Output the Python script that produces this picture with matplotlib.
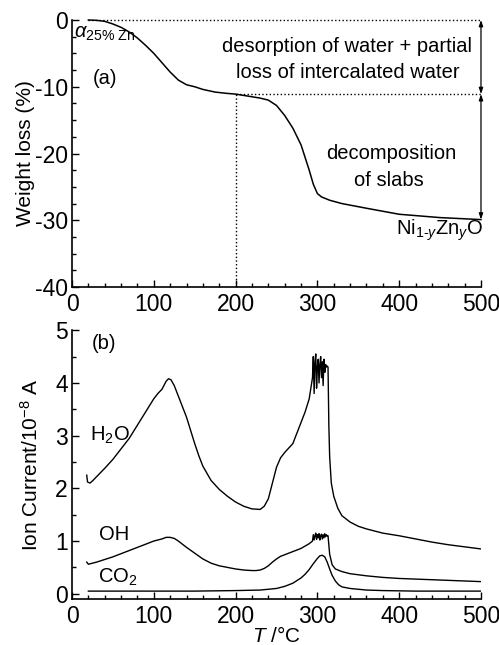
import matplotlib
matplotlib.use("Agg")
import matplotlib.pyplot as plt
from matplotlib.ticker import MultipleLocator

plt.rcParams['font.family'] = ['Liberation Sans', 'DejaVu Sans']
plt.rcParams['mathtext.fontset'] = 'custom'
plt.rcParams['mathtext.rm'] = 'Liberation Sans'
plt.rcParams['mathtext.it'] = 'Liberation Sans:italic'
plt.rcParams['mathtext.bf'] = 'Liberation Sans:bold'
plt.rcParams['axes.unicode_minus'] = False

# ---- data: panel (a) TGA ----
tga_T = [20, 30, 40, 50, 60, 70, 80, 90, 100, 110, 120, 130, 140, 150, 160, 175, 190,
         200, 210, 220, 230, 240, 250, 260, 270, 280, 290, 295, 300, 305, 315, 330,
         360, 400, 450, 500]
tga_w = [0, -0.05, -0.2, -0.6, -1.1, -1.8, -2.7, -3.8, -5.0, -6.4, -7.8, -9.0, -9.7,
         -10.0, -10.4, -10.8, -11.0, -11.1, -11.3, -11.5, -11.7, -12.0, -12.8, -14.3,
         -16.2, -18.7, -22.5, -24.6, -26.0, -26.5, -27.0, -27.5, -28.2, -29.1, -29.6, -29.9]
step_T = 200
step_w = -11.1
final_w = -29.9

# ---- data: panel (b) MS ion currents ----
h2o_T = [18, 19, 22, 25, 30, 40, 50, 60, 70, 80, 90, 100, 105, 110, 115, 118, 121, 125,
         130, 135, 140, 145, 150, 155, 160, 170, 180, 190, 200, 210, 220, 230, 235, 240,
         245, 250, 255, 260, 270, 280, 285, 290, 293,
         294, 295, 296, 297, 298, 299, 300, 301, 302, 303, 304, 305, 306, 307, 308, 309,
         310, 311, 312, 313,
         314, 315, 317, 320, 325, 330, 340, 350, 360, 380, 400, 420, 440, 460, 480, 500]
h2o_I = [2.25, 2.12, 2.1, 2.14, 2.22, 2.38, 2.55, 2.75, 2.95, 3.2, 3.45, 3.7, 3.8, 3.88,
         4.03, 4.08, 4.06, 3.95, 3.75, 3.55, 3.35, 3.1, 2.85, 2.62, 2.42, 2.15, 1.98, 1.85,
         1.74, 1.66, 1.61, 1.6, 1.66, 1.8, 2.1, 2.4, 2.58, 2.68, 2.85, 3.25, 3.45, 3.7, 4.0,
         4.1, 4.5, 3.8, 4.4, 4.55, 3.9, 4.3, 4.45, 4.0, 4.35, 4.5, 4.1, 4.4, 3.95, 4.45,
         4.2, 4.35, 4.3, 4.32, 4.3,
         3.2, 2.6, 2.1, 1.85, 1.62, 1.48, 1.36, 1.28, 1.23, 1.15, 1.1, 1.04, 0.98, 0.93, 0.89, 0.85]

oh_T = [18, 20, 30, 40, 50, 60, 70, 80, 90, 100, 110, 115, 120, 125, 130, 140, 150, 160,
        170, 180, 190, 200, 210, 220, 225, 230, 235, 240, 245, 250, 255, 260, 270, 280,
        290, 294,
        295, 296, 297, 298, 299, 300, 301, 302, 303, 304, 305, 306, 307, 308, 309, 310,
        311, 312, 313,
        315, 318, 322, 330, 340, 360, 380, 400, 450, 500]
oh_I = [0.6, 0.56, 0.6, 0.65, 0.7, 0.76, 0.82, 0.88, 0.94, 1.0, 1.04, 1.07, 1.07, 1.05,
        1.0, 0.88, 0.77, 0.66, 0.58, 0.53, 0.5, 0.47, 0.45, 0.44, 0.44, 0.45, 0.48, 0.53,
        0.6, 0.66, 0.71, 0.74, 0.8, 0.86, 0.95, 1.0,
        1.12, 1.02, 1.1, 1.15, 1.03, 1.12, 1.06, 1.14, 1.02, 1.1, 1.13, 1.04, 1.12, 1.06,
        1.14, 1.08, 1.12, 1.1, 1.1,
        0.75, 0.55, 0.47, 0.42, 0.38, 0.34, 0.31, 0.29, 0.26, 0.23]

co2_T = [20, 50, 100, 150, 200, 230, 250, 260, 270, 280, 285, 290, 295, 300, 303, 306,
         309, 312, 315, 318, 322, 326, 330, 340, 360, 380, 420, 460, 500]
co2_I = [0.05, 0.05, 0.05, 0.05, 0.06, 0.07, 0.1, 0.14, 0.2, 0.3, 0.37, 0.46, 0.57, 0.67,
         0.72, 0.73, 0.7, 0.6, 0.47, 0.35, 0.24, 0.17, 0.13, 0.1, 0.07, 0.06, 0.05, 0.05, 0.05]

xticks = [0, 100, 200, 300, 400, 500]
yticks_a = [0, -10, -20, -30, -40]
yticks_b = [0, 1, 2, 3, 4, 5]

TICK_FS = 16.5
LAB_FS = 15
ANN_FS = 14.5

fig = plt.figure(figsize=(4.99, 6.45), dpi=100)
ax1 = fig.add_axes([0.1443, 0.555, 0.8196, 0.414])
ax2 = fig.add_axes([0.1443, 0.0713, 0.8196, 0.4167])

for ax in (ax1, ax2):
    ax.spines['top'].set_visible(False)
    ax.spines['right'].set_visible(False)
    for s in ('left', 'bottom'):
        ax.spines[s].set_linewidth(1.2)
    ax.set_xlim(0, 500)
    ax.set_xticks(xticks)
    ax.xaxis.set_minor_locator(MultipleLocator(20))
    ax.tick_params(which='both', direction='in', labelsize=TICK_FS, width=1)
    ax.tick_params(which='major', length=5)
    ax.tick_params(which='minor', length=3)
    ax.tick_params(axis='x', pad=4)
    ax.tick_params(axis='y', pad=3)

# ---- panel (a) ----
ax1.set_ylim(-40, 0)
ax1.set_yticks(yticks_a)
ax1.yaxis.set_minor_locator(MultipleLocator(2.5))
ax1.plot(tga_T, tga_w, color='black', lw=1.1, clip_on=False)
ax1.plot([20, 500], [0, 0], color='black', lw=1, ls=':', clip_on=False)
ax1.plot([step_T, 500], [step_w, step_w], color='black', lw=1, ls=':')
ax1.plot([step_T, step_T], [-40, step_w], color='black', lw=1, ls=':')
arrow_kw = dict(arrowstyle='<|-|>,head_length=0.35,head_width=0.12', color='black',
                lw=0.9, shrinkA=0, shrinkB=0)
ax1.annotate('', xy=(500, 0), xytext=(500, step_w), arrowprops=arrow_kw,
             annotation_clip=False)
ax1.annotate('', xy=(500, step_w), xytext=(500, final_w), arrowprops=arrow_kw,
             annotation_clip=False)
ax1.set_ylabel('Weight loss (%)', fontsize=LAB_FS)
ax1.yaxis.set_label_coords(-0.09, 0.5)
ax1.text(3, -2.0, r'$\alpha_{\mathrm{25\%\ Zn}}$', fontsize=ANN_FS, ha='left', va='center')
ax1.text(25, -8.7, '(a)', fontsize=ANN_FS, ha='left', va='center')
ax1.text(336, -3.9, 'desorption of water + partial', fontsize=ANN_FS, ha='center', va='center')
ax1.text(337, -7.8, 'loss of intercalated water', fontsize=ANN_FS, ha='center', va='center')
ax1.text(390, -20.0, 'decomposition', fontsize=ANN_FS, ha='center', va='center')
ax1.text(388, -24.0, 'of slabs', fontsize=ANN_FS, ha='center', va='center')
ax1.text(449, -31.5, r'Ni$_{\mathrm{1\text{-}}y}$Zn$_y$O', fontsize=ANN_FS, ha='center', va='center')

# ---- panel (b) ----
ax2.set_ylim(-0.1, 5)
ax2.set_yticks(yticks_b)
ax2.yaxis.set_minor_locator(MultipleLocator(0.5))
ax2.plot(h2o_T, h2o_I, color='black', lw=1.0)
ax2.plot(oh_T, oh_I, color='black', lw=1.0)
ax2.plot(co2_T, co2_I, color='black', lw=1.0)
ax2.set_ylabel(r'Ion Current/10$^{-8}$ A', fontsize=LAB_FS)
ax2.yaxis.set_label_coords(-0.074, 0.5)
ax2.set_xlabel(r'$T$ /°C', fontsize=LAB_FS, labelpad=-1)
ax2.text(24, 4.75, '(b)', fontsize=ANN_FS, ha='left', va='center')
ax2.text(46, 3.0, r'H$_2$O', fontsize=ANN_FS, ha='center', va='center')
ax2.text(52, 1.12, 'OH', fontsize=ANN_FS, ha='center', va='center')
ax2.text(56, 0.32, r'CO$_2$', fontsize=ANN_FS, ha='center', va='center')

fig.savefig('out.png', dpi=100)
